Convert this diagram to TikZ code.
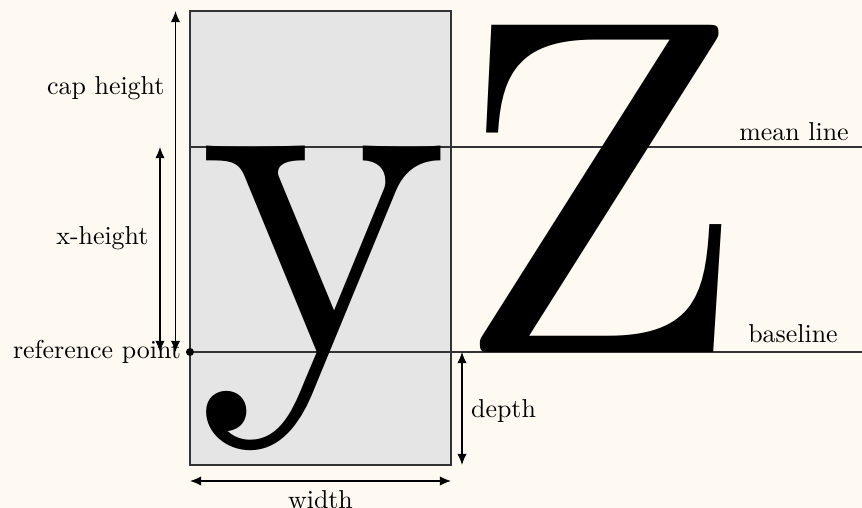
\documentclass[tikz,border=0pt]{standalone}
\usetikzlibrary{arrows.meta}
\definecolor{cream}{RGB}{254,249,241}
\font\biglm="[lmroman10-regular]" at 185pt
\begin{document}
\begin{tikzpicture}[x=0.3861pt,y=-0.3861pt,
  dim/.style={{Latex[length=4.3pt,width=3.6pt]}-{Latex[length=4.3pt,width=3.6pt]}, line width=0.5pt},
  guide/.style={line width=0.5pt, draw=black!80},
  lab/.style={font=\fontsize{10}{12}\selectfont, inner sep=0.3333em},
  glyph/.style={font=\biglm, inner sep=0pt, anchor=base}]
\fill[cream] (0,0) rectangle (862,508);
\useasboundingbox (0,0) rectangle (862,508);
% key points
\coordinate (tl) at (190,11);
\coordinate (br) at (451,465);
\coordinate (ref) at (190,352);
\coordinate (mean) at (190,147);
\coordinate (meanR) at (862,147);
\coordinate (baseR) at (862,352);
% glyph box
\filldraw[fill=gray!20, draw=black!80, line width=0.5pt] (tl) rectangle (br);
% guide lines
\draw[guide] (mean) -- (meanR);
\draw[guide] (ref) -- (baseR);
% glyphs
\node[glyph] (y) at (323.5,353) {y};
\node[glyph] (Z) at (600,353) {Z};
% reference point
\fill (ref) circle (4);
\node[lab, anchor=east] (reflab) at (ref) {reference point};
% line labels
\node[lab, anchor=base] (meanlab) at (794,141) {mean line};
\node[lab, anchor=base] (baselab) at (793,343) {baseline};
% cap height
\coordinate (capT) at (175.5,11);
\coordinate (capB) at (175.5,352);
\draw[dim] (capB) -- (capT);
\node[lab, anchor=east] (caplab) at (173.6,88.5) {cap height};
% x-height
\coordinate (xT) at (160,147);
\coordinate (xB) at (160,352);
\draw[dim] (xB) -- (xT);
\node[lab, anchor=east] (xlab) at (157.6,238.5) {x-height};
% depth
\coordinate (dT) at (462,352);
\coordinate (dB) at (462,465);
\draw[dim] (dT) -- (dB);
\node[lab, anchor=west] (dlab) at (462,411.5) {depth};
% width
\coordinate (wL) at (190,481);
\coordinate (wR) at (451,481);
\draw[dim] (wL) -- (wR);
\node[lab, anchor=north] (wlab) at (320.5,481) {width};
\end{tikzpicture}
\end{document}
